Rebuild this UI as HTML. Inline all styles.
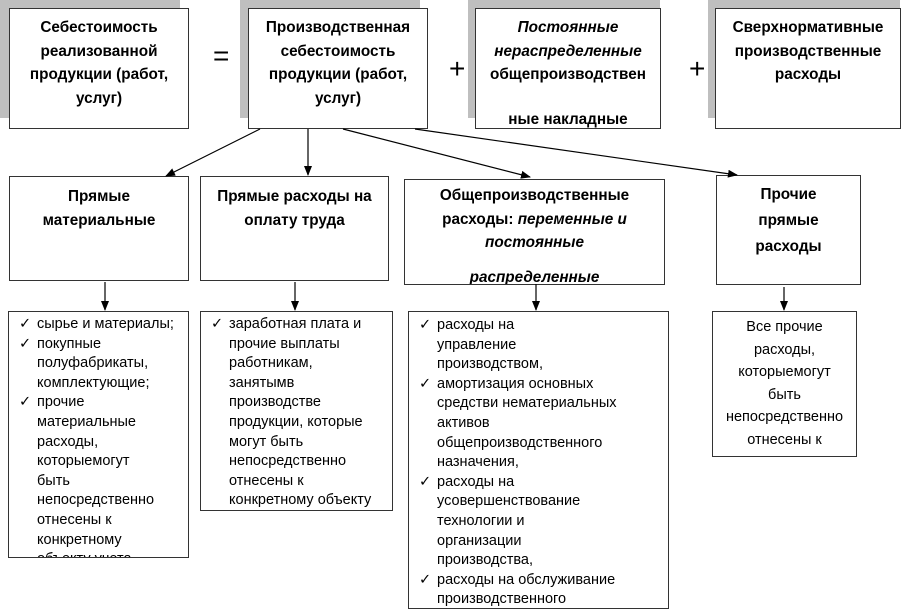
<!DOCTYPE html>
<html><head><meta charset="utf-8"><style>
body{margin:0;width:909px;height:609px;background:#fff;position:relative;overflow:hidden;font-family:"Liberation Sans",sans-serif;color:#000}
.b{position:absolute;background:#fff;border:1px solid #333;box-sizing:border-box;overflow:hidden}
.s{position:absolute;background:#bfbfbf}
.t{position:absolute;text-align:center;font-weight:bold;font-size:15.3px;line-height:23.5px;left:0;right:0}
.l{position:absolute;font-size:14.5px;line-height:19.6px;white-space:nowrap}
.op{position:absolute;font-size:28px}
</style></head><body>
<div class="s" style="left:0;top:0;width:180px;height:118px"></div>
<div class="b" style="left:9px;top:8px;width:180px;height:121px"><div class="t" style="top:7px">Себестоимость<br>реализованной<br>продукции (работ,<br>услуг)</div></div>
<div class="op" style="left:213px;top:40px">=</div>
<div class="s" style="left:240px;top:0;width:180px;height:118px"></div>
<div class="b" style="left:248px;top:8px;width:180px;height:121px"><div class="t" style="top:7px">Производственная<br>себестоимость<br>продукции (работ,<br>услуг)</div></div>
<div class="op" style="left:449px;top:53px">+</div>
<div class="s" style="left:468px;top:0;width:192px;height:118px"></div>
<div class="b" style="left:475px;top:8px;width:186px;height:121px"><div class="t" style="top:7px"><i>Постоянные<br>нераспределенные</i><br>общепроизводствен<br><span style="position:relative;top:21px">ные накладные</span></div></div>
<div class="op" style="left:689px;top:53px">+</div>
<div class="s" style="left:708px;top:0;width:192px;height:118px"></div>
<div class="b" style="left:715px;top:8px;width:186px;height:121px"><div class="t" style="top:7px">Сверхнормативные<br>производственные<br>расходы</div></div>

<div class="b" style="left:9px;top:176px;width:180px;height:105px"><div class="t" style="top:8px">Прямые<br>материальные</div></div>
<div class="b" style="left:200px;top:176px;width:189px;height:105px"><div class="t" style="top:8px">Прямые расходы на<br>оплату труда</div></div>
<div class="b" style="left:404px;top:179px;width:261px;height:106px"><div class="t" style="top:4px">Общепроизводственные<br>расходы: <i>переменные и<br>постоянные</i><br><i style="position:relative;top:11px">распределенные</i></div></div>
<div class="b" style="left:716px;top:175px;width:145px;height:110px"><div class="t" style="top:6px;line-height:26px">Прочие<br>прямые<br>расходы</div></div>

<div class="b" style="left:8px;top:311px;width:181px;height:247px">
<div class="l" style="left:10px;top:3px">✓<br>✓<br><br><br>✓</div>
<div class="l" style="left:28px;top:3px">сырье и материалы;<br>покупные<br>полуфабрикаты,<br>комплектующие;<br>прочие<br>материальные<br>расходы,<br>которыемогут<br>быть<br>непосредственно<br>отнесены к<br>конкретному<br>объекту учета</div></div>
<div class="b" style="left:200px;top:311px;width:193px;height:200px">
<div class="l" style="left:10px;top:3px">✓</div>
<div class="l" style="left:28px;top:3px">заработная плата и<br>прочие выплаты<br>работникам,<br>занятымв<br>производстве<br>продукции, которые<br>могут быть<br>непосредственно<br>отнесены к<br>конкретному объекту</div></div>
<div class="b" style="left:408px;top:311px;width:261px;height:298px">
<div class="l" style="left:10px;top:4px">✓<br><br><br>✓<br><br><br><br><br>✓<br><br><br><br><br>✓</div>
<div class="l" style="left:28px;top:4px">расходы на<br>управление<br>производством,<br>амортизация основных<br>средстви нематериальных<br>активов<br>общепроизводственного<br>назначения,<br>расходы на<br>усовершенствование<br>технологии и<br>организации<br>производства,<br>расходы на обслуживание<br>производственного</div></div>
<div class="b" style="left:712px;top:311px;width:145px;height:146px">
<div class="l" style="left:0;right:0;top:4px;text-align:center;line-height:22.5px">Все прочие<br>расходы,<br>которыемогут<br>быть<br>непосредственно<br>отнесены к</div></div>

<svg width="909" height="609" style="position:absolute;left:0;top:0" viewBox="0 0 909 609">
<defs><marker id="a" markerWidth="10" markerHeight="8" refX="9" refY="4" orient="auto" markerUnits="userSpaceOnUse"><path d="M0,0 L10,4 L0,8 z" fill="#000"/></marker></defs>
<g stroke="#000" stroke-width="1.2" fill="none" marker-end="url(#a)">
<line x1="260" y1="129" x2="166" y2="176"/>
<line x1="308" y1="129" x2="308" y2="175"/>
<line x1="343" y1="129" x2="530" y2="177"/>
<line x1="415" y1="129" x2="737" y2="175"/>
<line x1="105" y1="282" x2="105" y2="310"/>
<line x1="295" y1="282" x2="295" y2="310"/>
<line x1="536" y1="284" x2="536" y2="310"/>
<line x1="784" y1="287" x2="784" y2="310"/>
</g></svg>
</body></html>
